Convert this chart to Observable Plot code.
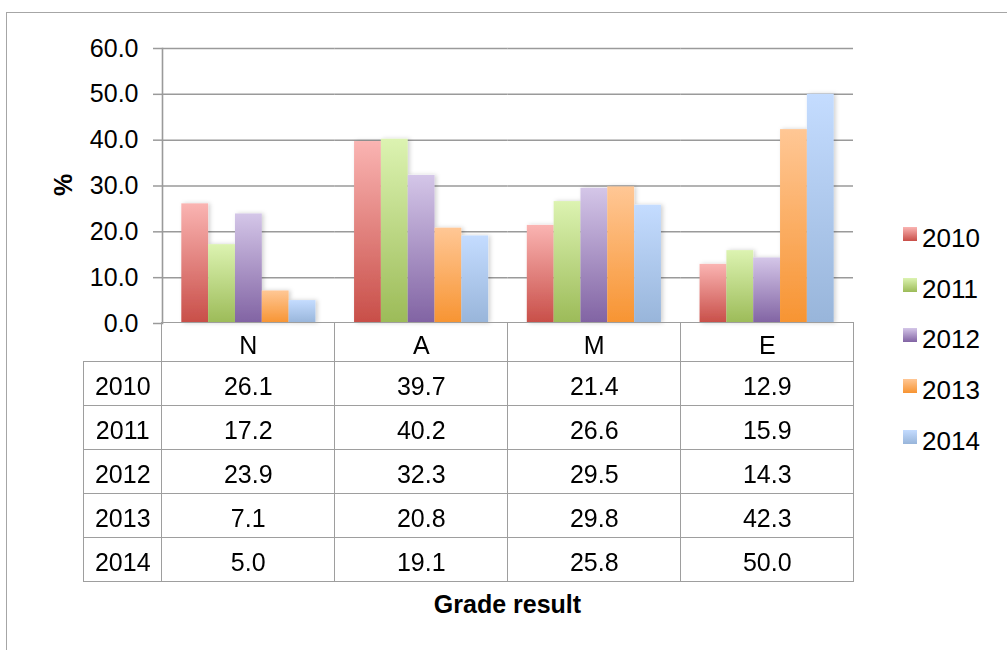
<!DOCTYPE html>
<html>
<head>
<meta charset="utf-8">
<script src="https://cdn.jsdelivr.net/npm/d3@7"></script>
<script src="https://cdn.jsdelivr.net/npm/@observablehq/plot@0.6"></script>
<style>
html, body { margin: 0; padding: 0; background: #fff; }
#wrap { position: relative; width: 1007px; height: 650px; overflow: hidden; background: #fff;
  font-family: "Liberation Sans", Arial, Helvetica, sans-serif; color: #000; }
#border { position: absolute; left: 6px; top: 12px; width: 1100px; height: 800px;
  border: 1.5px solid #a6a6a6; box-sizing: border-box; }
#plot { position: absolute; left: 0; top: 0; }
#ytitle { position: absolute; left: 63px; top: 185px; transform: translate(-50%, -50%) rotate(-90deg);
  font-weight: bold; font-size: 25px; line-height: 25px; }
#xtitle { position: absolute; left: 507.5px; top: 592px; transform: translateX(-50%);
  font-weight: bold; font-size: 25px; line-height: 25px; white-space: nowrap; }
#table { position: absolute; left: 83.25px; top: 322.25px; border-collapse: collapse; table-layout: fixed;
  width: 770px; font-size: 25px; }
#table td { border: 1.6px solid #9e9e9e; padding: 0; text-align: center; vertical-align: middle;
  line-height: 25px; white-space: nowrap; }
#table td span { position: relative; top: 3px; }
#table td.blank { border-top: none; border-left: none; }
.legend-item { position: absolute; left: 903px; height: 26px; }
.legend-item .sw { position: absolute; left: 0; top: 0; width: 14px; height: 14px; }
.legend-item .lb { position: absolute; left: 19px; top: -2px; font-size: 26px; line-height: 26px; white-space: nowrap; }
</style>
</head>
<body>
<div id="wrap">
  <div id="border"></div>
  <div id="plot"></div>
  <div id="ytitle">%</div>
  <div id="xtitle">Grade result</div>
</div>
<script>
// ---- Data ----
const categories = ["N", "A", "M", "E"];
const years = ["2010", "2011", "2012", "2013", "2014"];
const v2010 = [26.1, 39.7, 21.4, 12.9];
const v2011 = [17.2, 40.2, 26.6, 15.9];
const v2012 = [23.9, 32.3, 29.5, 14.3];
const v2013 = [7.1, 20.8, 29.8, 42.3];
const v2014 = [5.0, 19.1, 25.8, 50.0];
const yTicks = [0, 10, 20, 30, 40, 50, 60];
const yTitle = "%";
const xTitle = "Grade result";

// ---- Styles (gradient top / bottom per series) ----
const gradTop = ["#fab4b2", "#dcf3b1", "#d4c6e8", "#ffc795", "#c4dcff"];
const gradBottom = ["#c84e48", "#9cbb58", "#8163a3", "#f79432", "#98b5da"];

const series = [v2010, v2011, v2012, v2013, v2014];
const data = [];
categories.forEach((c, i) => {
  years.forEach((y, j) => data.push({cat: c, year: y, value: series[j][i]}));
});

const gridColor = "#9a9a9a";
const fontFamily = '"Liberation Sans", Arial, Helvetica, sans-serif';

const chart = Plot.plot({
  width: 1007,
  height: 330,
  marginLeft: 162,
  marginRight: 154,
  marginTop: 48,
  marginBottom: 7,
  style: {background: "transparent", fontFamily, fontSize: "25px", color: "black", overflow: "visible"},
  fx: {domain: categories, padding: 0, round: false, axis: null, label: null},
  x: {domain: years, paddingInner: 0, paddingOuter: 0.72, round: false, axis: null},
  y: {domain: [0, 60], axis: null},
  color: {domain: years, range: years.map(y => `url(#grad-${y})`)},
  marks: [
    Plot.gridY(yTicks.filter(d => d > 0), {stroke: gridColor, strokeOpacity: 1, strokeWidth: 1.5}),
    Plot.axisY({ticks: yTicks, tickFormat: d => d.toFixed(1), tickSize: 9, tickPadding: 15,
      stroke: gridColor, strokeWidth: 1.5, color: "black", fontSize: 25, label: null}),
    Plot.frame({anchor: "left", facet: "super", stroke: gridColor, strokeWidth: 1.6}),
    Plot.barY(data, {fx: "cat", x: "year", y: "value", fill: "year"})
  ]
});

// gradients + shadow defs
const svg = d3.select(chart);
const defs = svg.insert("defs", ":first-child");
years.forEach((y, j) => {
  const g = defs.append("linearGradient").attr("id", `grad-${y}`)
    .attr("x1", 0).attr("y1", 0).attr("x2", 0).attr("y2", 1);
  g.append("stop").attr("offset", "0%").attr("stop-color", gradTop[j]);
  g.append("stop").attr("offset", "100%").attr("stop-color", gradBottom[j]);
});
const f = defs.append("filter").attr("id", "bar-shadow").attr("x", "-20%").attr("y", "-10%")
  .attr("width", "150%").attr("height", "120%");
f.append("feDropShadow").attr("dx", 2).attr("dy", 0).attr("stdDeviation", 2)
  .attr("flood-color", "#000").attr("flood-opacity", 0.18);
svg.selectAll('g[aria-label="bar"]').attr("filter", "url(#bar-shadow)");

document.getElementById("plot").appendChild(chart);

// ---- Data table ----
const wrap = document.getElementById("wrap");
const table = document.createElement("table");
table.id = "table";
const colgroup = document.createElement("colgroup");
const firstCol = document.createElement("col"); firstCol.style.width = "78px"; colgroup.appendChild(firstCol);
categories.forEach(() => { const c = document.createElement("col"); c.style.width = "173px"; colgroup.appendChild(c); });
table.appendChild(colgroup);
const head = document.createElement("tr");
head.style.height = "39px";
const blank = document.createElement("td"); blank.className = "blank"; head.appendChild(blank);
categories.forEach(c => { const td = document.createElement("td"); td.innerHTML = `<span>${c}</span>`; head.appendChild(td); });
table.appendChild(head);
years.forEach((y, j) => {
  const tr = document.createElement("tr");
  tr.style.height = "44px";
  const th = document.createElement("td"); th.innerHTML = `<span>${y}</span>`; tr.appendChild(th);
  series[j].forEach(v => { const td = document.createElement("td"); td.innerHTML = `<span>${v.toFixed(1)}</span>`; tr.appendChild(td); });
  table.appendChild(tr);
});
wrap.appendChild(table);

// ---- Legend ----
years.forEach((y, j) => {
  const item = document.createElement("div");
  item.className = "legend-item";
  item.style.top = (227 + j * 50.7) + "px";
  item.innerHTML = `<div class="sw" style="background: linear-gradient(${gradTop[j]}, ${gradBottom[j]})"></div><div class="lb">${y}</div>`;
  wrap.appendChild(item);
});
document.getElementById("ytitle").textContent = yTitle;
document.getElementById("xtitle").textContent = xTitle;
</script>
</body>
</html>
